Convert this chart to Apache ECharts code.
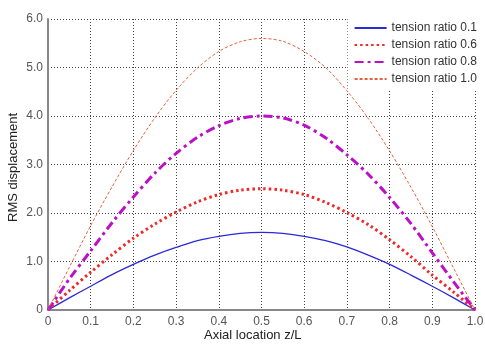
<!DOCTYPE html>
<html>
<head>
<meta charset="utf-8">
<script src="https://cdn.jsdelivr.net/npm/echarts@6/dist/echarts.min.js"></script>
<style>
  html, body { margin: 0; padding: 0; background: #fff; }
  #chart { width: 485px; height: 345px; }
</style>
</head>
<body>
<div id="chart"></div>
<script>
// axial location z/L
const zL = [0, 0.05, 0.1, 0.15, 0.2, 0.25, 0.3, 0.35, 0.4, 0.45, 0.5,
            0.55, 0.6, 0.65, 0.7, 0.75, 0.8, 0.85, 0.9, 0.95, 1.0];

// RMS displacement
const ratio01 = [0, 0.25, 0.49, 0.73, 0.94, 1.13, 1.29, 1.43, 1.52, 1.58, 1.60,
                 1.58, 1.52, 1.43, 1.30, 1.13, 0.94, 0.72, 0.49, 0.25, 0];
const ratio06 = [0, 0.40, 0.78, 1.14, 1.48, 1.77, 2.02, 2.23, 2.38, 2.47, 2.50,
                 2.47, 2.38, 2.22, 2.01, 1.76, 1.45, 1.10, 0.72, 0.37, 0];
const ratio08 = [0, 0.64, 1.22, 1.80, 2.33, 2.82, 3.23, 3.56, 3.80, 3.95, 4.00,
                 3.96, 3.81, 3.55, 3.20, 2.80, 2.32, 1.78, 1.18, 0.58, 0];
const ratio10 = [0, 0.88, 1.74, 2.54, 3.29, 3.96, 4.53, 4.99, 5.33, 5.53, 5.60,
                 5.54, 5.33, 5.00, 4.52, 3.95, 3.28, 2.53, 1.72, 0.86, 0];

const names = ['tension ratio 0.1', 'tension ratio 0.6', 'tension ratio 0.8', 'tension ratio 1.0'];
const xTitle = 'Axial location z/L';
const yTitle = 'RMS displacement';

const pairs = (ys) => zL.map((x, i) => [x, ys[i]]);
const font = 'Arial, "Liberation Sans", sans-serif';

const gridLine = { show: true, lineStyle: { color: '#444', type: [1, 2], width: 1 } };

const option = {
  animation: false,
  backgroundColor: '#fff',
  grid: { left: 48, right: 10, top: 19, bottom: 35, outerBoundsMode: 'none' },
  // axis titles placed as free text
  graphic: [
    {
      type: 'text', left: 204, top: 329,
      style: { text: xTitle, font: '13px ' + font, fill: '#222' }
    },
    {
      type: 'text', x: 7, y: 222, rotation: Math.PI / 2,
      style: { text: yTitle, font: '13px ' + font, fill: '#222' }
    }
  ],
  legend: {
    orient: 'vertical',
    right: 4,
    top: 18,
    itemWidth: 32,
    itemHeight: 11,
    itemGap: 5,
    backgroundColor: '#fff',
    padding: [4, 4, 4, 6],
    itemStyle: { opacity: 0 },
    textStyle: { fontFamily: font, fontSize: 12, color: '#333' },
    data: names
  },
  xAxis: {
    type: 'value',
    min: 0, max: 1, interval: 0.1,
    axisLine: { show: true, lineStyle: { color: '#888', width: 2 } },
    axisTick: { show: false },
    axisLabel: {
      fontFamily: font, fontSize: 12, color: '#555', margin: 6,
      formatter: (v) => v === 0 ? '0' : v.toFixed(1)
    },
    splitLine: gridLine
  },
  yAxis: {
    type: 'value',
    min: 0, max: 6, interval: 1,
    axisLine: { show: true, lineStyle: { color: '#888', width: 2 } },
    axisTick: { show: false },
    axisLabel: {
      fontFamily: font, fontSize: 12, color: '#555', margin: 5,
      formatter: (v) => v === 0 ? '0' : v.toFixed(1)
    },
    splitLine: gridLine
  },
  series: [
    {
      name: names[0], type: 'line', smooth: 0.3, symbol: 'none',
      data: pairs(ratio01),
      itemStyle: { color: '#2a2ad8' },
      lineStyle: { color: '#2a2ad8', width: 1.3, type: 'solid' }
    },
    {
      name: names[1], type: 'line', smooth: 0.3, symbol: 'none',
      data: pairs(ratio06),
      itemStyle: { color: '#ee2b2b' },
      lineStyle: { color: '#ee2b2b', width: 3, type: [2.5, 3] }
    },
    {
      name: names[2], type: 'line', smooth: 0.3, symbol: 'none',
      data: pairs(ratio08),
      itemStyle: { color: '#bb10c8' },
      lineStyle: { color: '#bb10c8', width: 3, type: [9, 4, 3, 4] }
    },
    {
      name: names[3], type: 'line', smooth: 0.3, symbol: 'none',
      data: pairs(ratio10),
      itemStyle: { color: '#e6603c' },
      lineStyle: { color: '#e6603c', width: 1, type: [3, 2] }
    }
  ]
};

const chart = echarts.init(document.getElementById('chart'));
chart.setOption(option);
</script>
</body>
</html>
